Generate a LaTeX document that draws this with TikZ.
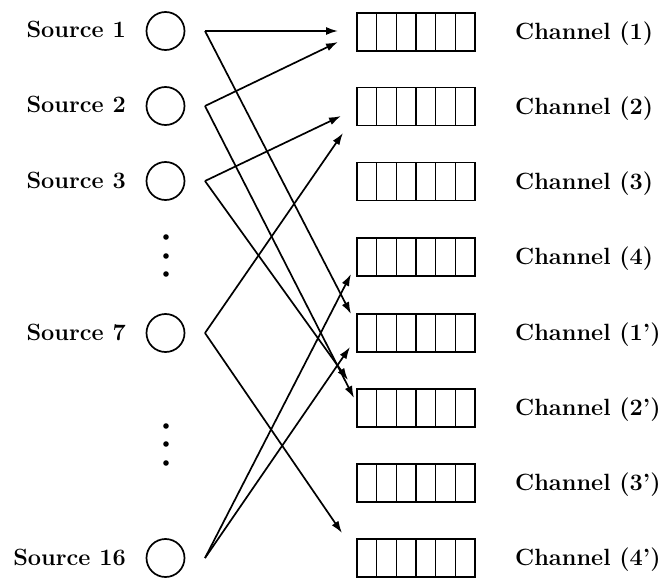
\documentclass[tikz,border=0pt]{standalone}
\usetikzlibrary{arrows.meta}
\begin{document}
\begin{tikzpicture}[x=1pt,y=-1pt,
  src/.style={circle,draw,line width=1.7pt,minimum size=38pt,inner sep=0pt},
  chan/.style={rectangle,draw,line width=1.8pt,minimum width=118pt,minimum height=38pt,inner sep=0pt},
  lab/.style={font=\fontsize{23.5}{28}\selectfont\bfseries,inner sep=0pt},
  conn/.style={line width=1.7pt,-{Latex[length=12pt,width=8pt]}},
  cell/.style={line width=1.6pt}]
\useasboundingbox (0,0) rectangle (662,578);
% sources
\foreach \n/\y in {1/31,2/106,3/181,7/333,16/558}{
  \node[src] (s\n) at (165.5,\y) {};
  \node[lab,anchor=base east] (ls\n) at (126,\y+7) {Source \n};
  \coordinate (o\n) at (205,\y);
}
% dots
\foreach \y in {237,256,274,426,444,463}{
  \fill (166,\y) circle (2.8pt);
}
% channels
\foreach \k/\y/\t in {1/32/1,2/106.5/2,3/181.5/3,4/257/4,5/333/1',6/408/2',7/483/3',8/558/4'}{
  \node[chan] (c\k) at (416,\y) {};
  \foreach \i in {1,...,5}{
    \draw[cell] (357+\i*19.67,\y-19) -- (357+\i*19.67,\y+19);
  }
  \node[lab,anchor=base west] (lc\k) at (515,\y+7.5) {Channel (\t)};
}
% arrow end points
\coordinate (t1a) at (338,31);
\coordinate (t1b) at (351,314);
\coordinate (t2a) at (338,42);
\coordinate (t2b) at (354,398);
\coordinate (t3a) at (341,116);
\coordinate (t3b) at (348,380);
\coordinate (t7a) at (343,133);
\coordinate (t7b) at (342,533);
\coordinate (t16a) at (351,274);
\coordinate (t16b) at (350,347);
% connectors
\draw[conn] (o1) -- (t1a);
\draw[conn] (o1) -- (t1b);
\draw[conn] (o2) -- (t2a);
\draw[conn] (o2) -- (t2b);
\draw[conn] (o3) -- (t3a);
\draw[conn] (o3) -- (t3b);
\draw[conn] (o7) -- (t7a);
\draw[conn] (o7) -- (t7b);
\draw[conn] (o16) -- (t16a);
\draw[conn] (o16) -- (t16b);
\end{tikzpicture}
\end{document}
